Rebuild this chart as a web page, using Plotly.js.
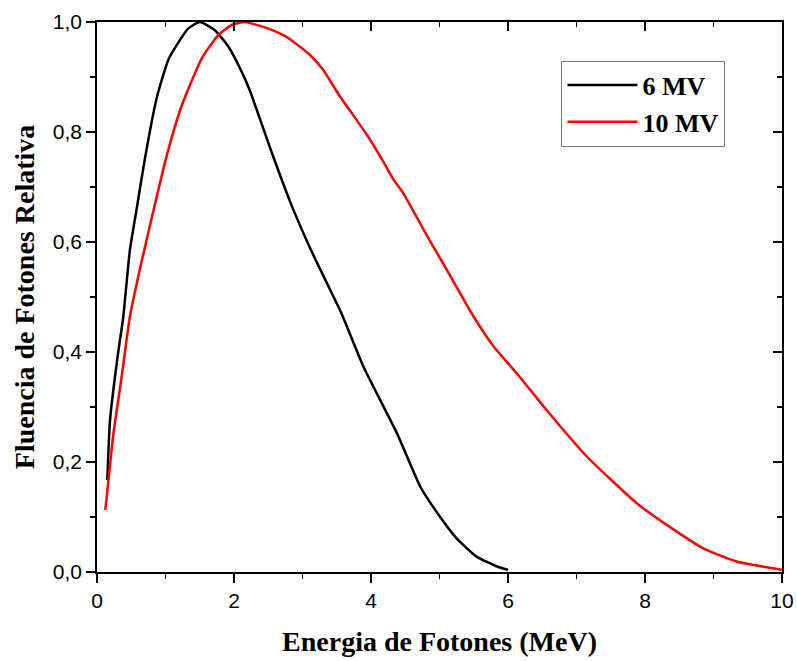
<!DOCTYPE html>
<html>
<head>
<meta charset="utf-8">
<script src="https://cdn.plot.ly/plotly-3.0.1.min.js"></script>
<style>html,body{margin:0;padding:0;background:#fff;}#chart{width:797px;height:661px;}</style>
</head>
<body>
<div id="chart"></div>
<script>
var seriesNames = ["6 MV", "10 MV"];
var energy6 = [0.15, 0.19, 0.31, 0.38, 0.48, 0.58, 0.70, 0.87, 1.04, 1.21, 1.33, 1.50, 1.72, 1.92, 2.11, 2.23, 2.53, 2.82, 3.11, 3.40, 3.57, 3.89, 4.38, 4.72, 5.01, 5.25, 5.54, 5.84, 6.00];
var fluence6 = [0.167, 0.276, 0.40, 0.46, 0.585, 0.661, 0.752, 0.861, 0.931, 0.967, 0.988, 1.0, 0.985, 0.955, 0.91, 0.876, 0.770, 0.673, 0.589, 0.514, 0.47, 0.373, 0.252, 0.155, 0.10, 0.061, 0.028, 0.010, 0.004];
var energy10 = [0.12, 0.14, 0.24, 0.36, 0.48, 0.65, 0.82, 1.02, 1.24, 1.53, 1.77, 1.97, 2.16, 2.50, 2.72, 2.89, 3.11, 3.30, 3.55, 3.94, 4.18, 4.33, 4.47, 4.81, 5.15, 5.47, 5.79, 6.13, 6.56, 7.15, 7.88, 8.36, 8.85, 9.34, 10.0];
var fluence10 = [0.113, 0.134, 0.252, 0.355, 0.464, 0.564, 0.655, 0.758, 0.849, 0.934, 0.976, 0.995, 1.0, 0.988, 0.976, 0.962, 0.940, 0.913, 0.864, 0.795, 0.746, 0.713, 0.689, 0.613, 0.540, 0.47, 0.41, 0.361, 0.295, 0.21, 0.125, 0.082, 0.043, 0.019, 0.004];
var xTickVals = [0, 2, 4, 6, 8, 10];
var yTickVals = [0, 0.2, 0.4, 0.6, 0.8, 1.0];

var traces = [
  {x: energy6, y: fluence6, name: seriesNames[0], type: "scatter", mode: "lines",
   line: {color: "#000000", width: 2.5, shape: "spline", smoothing: 0.5}},
  {x: energy10, y: fluence10, name: seriesNames[1], type: "scatter", mode: "lines",
   line: {color: "#ff0000", width: 2.5, shape: "spline", smoothing: 0.5}},
  {x: [0, 10], y: [0, 1], xaxis: "x2", yaxis: "y2", showlegend: false, hoverinfo: "skip",
   type: "scatter", mode: "lines", line: {width: 0, color: "rgba(0,0,0,0)"}}
];

var tickFont = {family: "Liberation Sans, Arial, sans-serif", size: 21, color: "#000"};
var titleFont = {family: "Liberation Serif, Times New Roman, serif", size: 28, color: "#000"};

var layout = {
  width: 797, height: 661,
  margin: {l: 97, r: 15, t: 22, b: 89},
  paper_bgcolor: "#fff", plot_bgcolor: "#fff",
  separators: ",.",
  showlegend: true,
  legend: {
    x: 0.678, y: 0.93, xanchor: "left", yanchor: "top",
    bordercolor: "#777", borderwidth: 1, bgcolor: "#fff",
    font: {family: "Liberation Serif, Times New Roman, serif", size: 26, color: "#000", weight: "bold"},
    itemwidth: 70, tracegroupgap: 0
  },
  xaxis: {
    range: [0, 10], tickvals: xTickVals, tickformat: "d",
    showgrid: false, zeroline: false, showline: true, linecolor: "#000", linewidth: 1.8,
    ticks: "outside", ticklen: 9, tickwidth: 1.8, tickcolor: "#000",
    minor: {dtick: 1, ticks: "outside", ticklen: 5, tickwidth: 1.8, tickcolor: "#000", showgrid: false},
    tickfont: tickFont,
    title: {text: "<b>Energia de Fotones (MeV)</b>", font: titleFont, standoff: 20}
  },
  yaxis: {
    range: [0, 1], tickvals: yTickVals, tickformat: ".1f",
    showgrid: false, zeroline: false, showline: true, linecolor: "#000", linewidth: 1.8,
    ticks: "outside", ticklen: 9, tickwidth: 1.8, tickcolor: "#000",
    minor: {dtick: 0.1, ticks: "outside", ticklen: 5, tickwidth: 1.8, tickcolor: "#000", showgrid: false},
    tickfont: tickFont,
    title: {text: "<b>Fluencia de Fotones Relativa</b>", font: titleFont, standoff: 10}
  },
  xaxis2: {
    overlaying: "x", side: "top", anchor: "y2", range: [0, 10], tickvals: xTickVals,
    showticklabels: false, showgrid: false, zeroline: false, showline: true, linecolor: "#000", linewidth: 1.8,
    ticks: "inside", ticklen: 9, tickwidth: 1.8, tickcolor: "#000",
    minor: {dtick: 1, ticks: "inside", ticklen: 5, tickwidth: 1.8, tickcolor: "#000", showgrid: false}
  },
  yaxis2: {
    overlaying: "y", side: "right", anchor: "x2", range: [0, 1], tickvals: yTickVals,
    showticklabels: false, showgrid: false, zeroline: false, showline: true, linecolor: "#000", linewidth: 1.8,
    ticks: "inside", ticklen: 9, tickwidth: 1.8, tickcolor: "#000",
    minor: {dtick: 0.1, ticks: "inside", ticklen: 5, tickwidth: 1.8, tickcolor: "#000", showgrid: false}
  }
};

Plotly.newPlot("chart", traces, layout, {displayModeBar: false, staticPlot: true});
</script>
</body>
</html>
